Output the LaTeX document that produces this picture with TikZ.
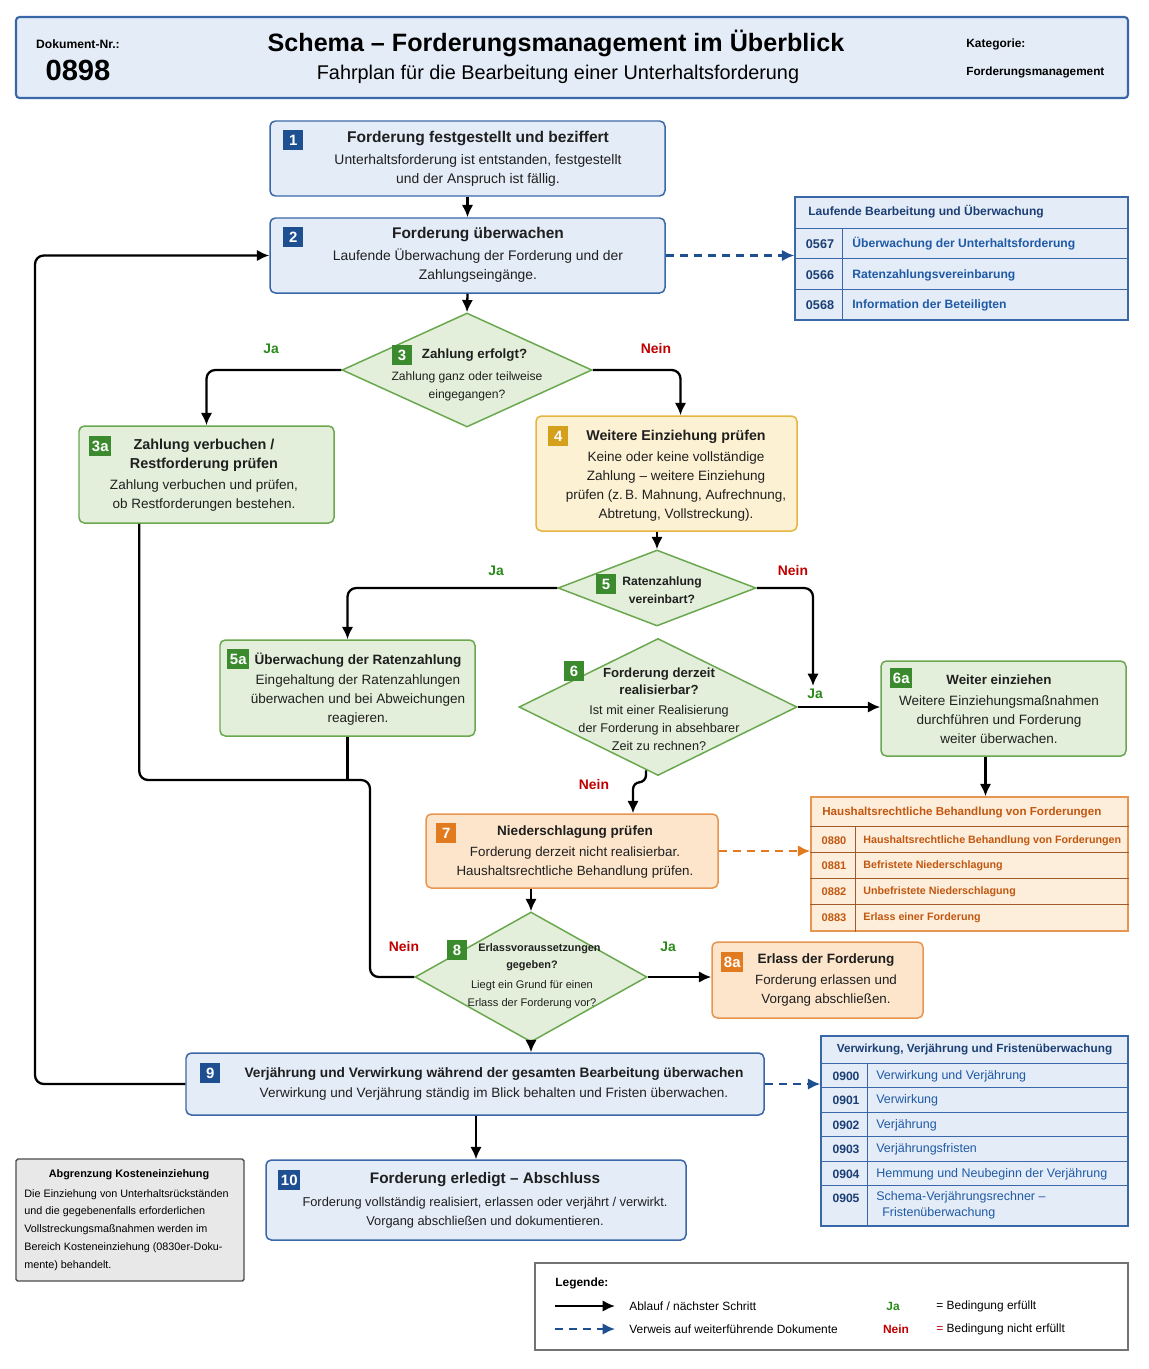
\documentclass[tikz,border=0pt]{standalone}
\usepackage{fontspec}
\setmainfont{Liberation Sans}
\usepackage{tikz}
\usetikzlibrary{arrows.meta,calc,positioning,shapes.geometric}

% colours
\definecolor{blueline}{HTML}{3A67A8}
\definecolor{bluefill}{HTML}{E4ECF7}
\definecolor{bluebadge}{HTML}{1D4F91}
\definecolor{bluetext}{HTML}{1F5AA6}
\definecolor{navytext}{HTML}{1B3F75}
\definecolor{greenline}{HTML}{6AA84F}
\definecolor{greenfill}{HTML}{E3EFDA}
\definecolor{greenbadge}{HTML}{3B8A2E}
\definecolor{goldline}{HTML}{E5B541}
\definecolor{goldfill}{HTML}{FDF1D3}
\definecolor{goldbadge}{HTML}{D5A11C}
\definecolor{orangeline}{HTML}{E8954F}
\definecolor{orangefill}{HTML}{FCE5CB}
\definecolor{orangebadge}{HTML}{E27B1F}
\definecolor{orangetext}{HTML}{C2570F}
\definecolor{orangerule}{HTML}{A15A2A}
\definecolor{jagreen}{HTML}{2A8A1A}
\definecolor{neinred}{HTML}{C00000}
\definecolor{notefill}{HTML}{E8E8E8}

% font helpers
\newcommand\fs[2][10.8]{\fontsize{#2}{#1}\selectfont}
\newcommand\ttl[1]{\fontsize{#1}{10.8}\selectfont\bfseries}

\tikzset{%
	stepbox/.style 2 args  = {draw, rectangle, rounded corners=3pt, line width=0.85pt, minimum width=#1*0.02cm, minimum height=#2*0.02cm},
	bluebox/.style         = {draw=blueline, fill=bluefill},
	greenbox/.style        = {draw=greenline, fill=greenfill},
	goldbox/.style         = {draw=goldline, fill=goldfill},
	orangebox/.style       = {draw=orangeline, fill=orangefill},
	decision/.style 2 args = {draw=greenline, fill=greenfill, diamond, line width=0.85pt, minimum width=#1*0.02cm, minimum height=#2*0.02cm},
	steptext/.style        = {align=center, text=black!88},
	badge/.style           = {rectangle, minimum width=20*0.02cm, minimum height=20*0.02cm, inner xsep=1.5pt, text=white, font={\ttl{8.5}}},
	doctable/.style 2 args = {draw, rectangle, line width=0.85pt, minimum width=#1*0.02cm, minimum height=#2*0.02cm},
	flow/.style            = {line width=1.3pt, -{Latex[length=7pt,width=6.5pt]}},
	joinline/.style        = {line width=1.3pt},
	refblue/.style         = {line width=1.2pt, draw=bluebadge, dash pattern=on 4.5pt off 3.5pt, -{Latex[length=7pt,width=6.5pt]}},
	reforange/.style       = {line width=1.2pt, draw=orangebadge, dash pattern=on 4.5pt off 3.5pt, -{Latex[length=7pt,width=6.5pt]}},
	ja/.style              = {text=jagreen, font={\ttl{7.9}}},
	nein/.style            = {text=neinred, font={\ttl{7.9}}},
}

\begin{document}
\begin{tikzpicture}[x=0.02cm, y=-0.02cm, every node/.style={inner sep=0pt}]
	\useasboundingbox (0,0) rectangle (1149,1369);
	\fill[white] (0,0) rectangle (1149,1369);

	% header
	\node[draw=blueline, fill=bluefill, line width=1.2pt, rounded corners=2pt, minimum width=1112*0.02cm, minimum height=81*0.02cm] (hdr) at (572,57.5) {};
	\node[font={\ttl{6.9}}] (docnr) at (78,44) {Dokument-Nr.:};
	\node[font={\ttl{16.6}}] (docnum) at (78,70) {0898};
	\node[font={\ttl{14.3}}] (title) at (556,43) {Schema – Forderungsmanagement im Überblick};
	\node[font={\fs{11.3}}] (subtitle) at (558,74) {Fahrplan für die Bearbeitung einer Unterhaltsforderung};
	\node[anchor=west, font={\ttl{6.8}}] (kat) at (966,44) {Kategorie:};
	\node[anchor=west, font={\ttl{6.7}}] (katname) at (966,72) {Forderungsmanagement};

	% steps
	\node[stepbox={395}{75}, bluebox] (s1) at (467.5,158.5) {};
	\node[badge, fill=bluebadge] (s1n) at ($(s1.north west)+(24,20)$) {1};
	\node[steptext, font={\fs{7.9}}] (s1t) at (478,159) {{\ttl{8.85}Forderung festgestellt und beziffert}\\[2pt]Unterhaltsforderung ist entstanden, festgestellt\\und der Anspruch ist fällig.};

	\node[stepbox={395}{75}, bluebox] (s2) at (467.5,255.5) {};
	\node[badge, fill=bluebadge] (s2n) at ($(s2.north west)+(24,20)$) {2};
	\node[steptext, font={\fs{7.9}}] (s2t) at (478,255) {{\ttl{8.8}Forderung überwachen}\\[2pt]Laufende Überwachung der Forderung und der\\Zahlungseingänge.};

	\node[decision={250}{114}] (d3) at (467,370) {};
	\node[badge, fill=greenbadge] (d3n) at ($(d3)+(-65,-15)$) {3};
	\node[steptext, font={\fs[10.2]{6.9}}] (d3t) at (467,375) {{\ttl{7.6}\hspace*{0.3cm}Zahlung erfolgt?}\\[2pt]Zahlung ganz oder teilweise\\eingegangen?};

	\node[stepbox={255}{97}, greenbox] (s3a) at (206.5,474.5) {};
	\node[badge, fill=greenbadge] (s3an) at ($(s3a.north west)+(22,21)$) {3a};
	\node[steptext, font={\fs{7.7}}] (s3at) at (204,475) {{\ttl{8.2}Zahlung verbuchen /}\\{\ttl{8.2}Restforderung prüfen}\\[1pt]Zahlung verbuchen und prüfen,\\ob Restforderungen bestehen.};

	\node[stepbox={261}{115}, goldbox] (s4) at (666.5,473.5) {};
	\node[badge, fill=goldbadge] (s4n) at ($(s4.north west)+(23,21)$) {4};
	\node[steptext, font={\fs{7.7}}] (s4t) at (676,476) {{\ttl{8.1}Weitere Einziehung prüfen}\\[1pt]Keine oder keine vollständige\\Zahlung – weitere Einziehung\\prüfen (z.\,B. Mahnung, Aufrechnung,\\Abtretung, Vollstreckung).};

	\node[decision={198}{76}] (d5) at (657,588) {};
	\node[badge, fill=greenbadge] (d5n) at ($(d5)+(-51,-4)$) {5};
	\node[steptext, font={\fs[10.2]{6.9}}] (d5t) at (662,590) {{\ttl{6.9}Ratenzahlung}\\{\ttl{6.9}vereinbart?}};

	\node[stepbox={255}{96}, greenbox] (s5a) at (347.5,688) {};
	\node[badge, fill=greenbadge] (s5an) at ($(s5a.north west)+(19,20)$) {5a};
	\node[steptext, font={\fs{7.7}}] (s5at) at (358,689) {{\ttl{7.7}Überwachung der Ratenzahlung}\\[1pt]Eingehaltung der Ratenzahlungen\\überwachen und bei Abweichungen\\reagieren.};

	\node[decision={278}{137}] (d6) at (658,707) {};
	\node[badge, fill=greenbadge] (d6n) at ($(d6)+(-84,-36)$) {6};
	\node[steptext, font={\fs[10.2]{7.2}}] (d6t) at (659,709) {{\ttl{7.5}Forderung derzeit}\\{\ttl{7.5}realisierbar?}\\[1pt]Ist mit einer Realisierung\\der Forderung in absehbarer\\Zeit zu rechnen?};

	\node[stepbox={245}{95}, greenbox] (s6a) at (1003.5,708.5) {};
	\node[badge, fill=greenbadge] (s6an) at ($(s6a.north west)+(21,18)$) {6a};
	\node[steptext, font={\fs{7.7}}] (s6at) at (999,709) {{\ttl{7.6}Weiter einziehen}\\[1pt]Weitere Einziehungsmaßnahmen\\durchführen und Forderung\\weiter überwachen.};

	\node[stepbox={292}{74}, orangebox] (s7) at (572,851) {};
	\node[badge, fill=orangebadge] (s7n) at ($(s7.north west)+(21,20)$) {7};
	\node[steptext, font={\fs{7.6}}] (s7t) at (575,852) {{\ttl{7.7}Niederschlagung prüfen}\\[1pt]Forderung derzeit nicht realisierbar.\\Haushaltsrechtliche Behandlung prüfen.};

	\node[decision={232}{130}] (d8) at (531,977) {};
	\node[badge, fill=greenbadge] (d8n) at ($(d8)+(-74,-27)$) {8};
	\node[steptext, font={\fs[10.2]{6.3}}] (d8t) at (532,976) {{\ttl{6.2}\hspace*{0.3cm}Erlassvoraussetzungen}\\{\ttl{6.2}gegeben?}\\[1pt]Liegt ein Grund für einen\\Erlass der Forderung vor?};

	\node[stepbox={211}{76}, orangebox] (s8a) at (817.5,980) {};
	\node[badge, fill=orangebadge] (s8an) at ($(s8a.north west)+(21,21)$) {8a};
	\node[steptext, font={\fs{7.6}}] (s8at) at (826,980) {{\ttl{7.7}Erlass der Forderung}\\[1pt]Forderung erlassen und\\Vorgang abschließen.};

	\node[stepbox={578}{62}, bluebox] (s9) at (475,1084) {};
	\node[badge, fill=bluebadge] (s9n) at ($(s9.north west)+(25,21)$) {9};
	\node[steptext, font={\fs{7.7}}] (s9t) at (494,1084) {{\ttl{7.8}Verjährung und Verwirkung während der gesamten Bearbeitung überwachen}\\[1pt]Verwirkung und Verjährung ständig im Blick behalten und Fristen überwachen.};

	\node[stepbox={420}{80}, bluebox] (s10) at (476,1200) {};
	\node[badge, fill=bluebadge] (s10n) at ($(s10.north west)+(24,21)$) {10};
	\node[steptext, font={\fs{7.3}}] (s10t) at (485,1200) {{\ttl{8.7}Forderung erledigt – Abschluss}\\[2.5pt]Forderung vollständig realisiert, erlassen oder verjährt / verwirkt.\\Vorgang abschließen und dokumentieren.};

	% document tables
	\node[doctable={333}{123}, draw=blueline, fill=bluefill] (t1) at (961.5,258.5) {};
	\foreach \y in {32,62,93}
		\draw[blueline, line width=0.85pt] ($(t1.north west)+(0,\y)$) -- ($(t1.north east)+(0,\y)$);
	\draw[blueline, line width=0.85pt] ($(t1.north west)+(48,32)$) -- ($(t1.south west)+(48,0)$);
	\node[anchor=west, font={\ttl{6.85}}, text=navytext] (t1h) at (808,212) {Laufende Bearbeitung und Überwachung};
	\foreach \y/\nr/\doc in {244/0567/Überwachung der Unterhaltsforderung, 275/0566/Ratenzahlungsvereinbarung, 305/0568/Information der Beteiligten} {
		\node[font={\ttl{7.2}}, text=navytext] (nr\nr) at (820,\y) {\nr};
		\node[anchor=west, font={\ttl{6.9}}, text=bluetext] (doc\nr) at (852,\y) {\doc};
	}

	\node[doctable={317}{134}, draw=orangeline, fill=orangefill!70] (t3) at (969.5,864) {};
	\foreach \y in {30,56,82,108}
		\draw[orangerule, line width=0.7pt] ($(t3.north west)+(0,\y)$) -- ($(t3.north east)+(0,\y)$);
	\draw[orangerule, line width=0.7pt] ($(t3.north west)+(45,30)$) -- ($(t3.south west)+(45,0)$);
	\node[anchor=west, font={\ttl{6.6}}, text=orangetext] (t3h) at (822,813) {Haushaltsrechtliche Behandlung von Forderungen};
	\foreach \y/\nr/\doc in {841/0880/Haushaltsrechtliche Behandlung von Forderungen, 866/0881/Befristete Niederschlagung, 892/0882/Unbefristete Niederschlagung, 918/0883/Erlass einer Forderung} {
		\node[font={\ttl{6.3}}, text=orangetext] (nr\nr) at (834,\y) {\nr};
		\node[anchor=west, font={\ttl{6.1}}, text=orangetext] (doc\nr) at (863,\y) {\doc};
	}

	\node[doctable={307}{190}, draw=blueline, fill=bluefill] (t2) at (974.5,1131) {};
	\foreach \y in {28,52,77,101,126,150}
		\draw[blueline, line width=0.85pt] ($(t2.north west)+(0,\y)$) -- ($(t2.north east)+(0,\y)$);
	\draw[blueline, line width=0.85pt] ($(t2.north west)+(47,28)$) -- ($(t2.south west)+(47,0)$);
	\node[font={\ttl{6.7}}, text=navytext] (t2h) at ($(t2.north)+(0,14)$) {Verwirkung, Verjährung und Fristenüberwachung};
	\foreach \y/\nr/\doc in {1076/0900/Verwirkung und Verjährung, 1100/0901/Verwirkung, 1125/0902/Verjährung, 1149/0903/Verjährungsfristen, 1174/0904/Hemmung und Neubeginn der Verjährung} {
		\node[font={\ttl{6.9}}, text=navytext] (nr\nr) at (846,\y) {\nr};
		\node[anchor=west, font={\fs{7.1}}, text=bluetext] (doc\nr) at (876,\y) {\doc};
	}
	\node[font={\ttl{6.9}}, text=navytext] (nr0905) at (846,1198) {0905};
	\node[anchor=north west, align=left, font={\fs[9.3]{7.1}}, text=bluetext] (doc0905) at (876,1191) {Schema-Verjährungsrechner –\\\hspace*{0.12cm}Fristenüberwachung};

	% flow
	\draw[flow] (s1.south) -- (s2.north);
	\draw[flow] (s2.south) -- (d3.north);
	\draw[flow, rounded corners=5pt] (d3.west) -| (s3a.north);
	\draw[flow, rounded corners=5pt] (d3.east) -| ($(s4.north)+(14,0)$);
	\draw[flow] (s4.south -| d5.north) -- (d5.north);
	\draw[flow, rounded corners=5pt] (d5.west) -| (s5a.north);
	\coordinate (c5) at (813,686);
	\draw[flow, rounded corners=5pt] (d5.east) -| (c5);
	\draw[flow] (d6.east) -- (d6.east -| s6a.west);
	\coordinate (c6) at ($(s6a.south)+(-18,0)$);
	\draw[flow] (c6) -- (c6 |- t3.north);
	\coordinate (c6n) at ($(d6.south)+(-12,-6)$);
	\draw[flow, rounded corners=4pt] (c6n) -- ++(0,12) -| ($(s7.north)+(61,0)$);
	\draw[flow] (s7.south -| d8.north) -- (d8.north);
	\draw[flow] (d8.east) -- (d8.east -| s8a.west);
	\draw[flow] (d8.south) -- (d8.south |- s9.north);
	\coordinate (j1) at (370,780);
	\coordinate (c3a) at ($(s3a.south west)+(61,0)$);
	\draw[joinline, rounded corners=5pt] (c3a) |- (j1) |- (d8.west);
	\draw[joinline] (s5a.south) -- (s5a.south |- j1);
	\coordinate (loop) at (35,600);
	\draw[flow, rounded corners=5pt] (s9.west) -| (loop |- s2.west) -- (s2.west);
	\draw[flow] (s9.south -| s10.north) -- (s10.north);

	% references
	\draw[refblue] (s2.east) -- (s2.east -| t1.west);
	\draw[reforange] (s7.east) -- (s7.east -| t3.west);
	\draw[refblue] (s9.east) -- (s9.east -| t2.west);

	% branch labels
	\node[ja] (ja3) at (271,349) {Ja};
	\node[nein] (nein3) at (656,349) {Nein};
	\node[ja] (ja5) at (496,571) {Ja};
	\node[nein] (nein5) at (793,571) {Nein};
	\node[ja] (ja6) at (815,694) {Ja};
	\node[nein] (nein6) at (594,785) {Nein};
	\node[nein] (nein8) at (404,947) {Nein};
	\node[ja] (ja8) at (668,947) {Ja};

	% side note
	\node[draw=black!70, fill=notefill, rounded corners=1pt, line width=0.8pt, minimum width=228*0.02cm, minimum height=122*0.02cm] (note) at (130,1220) {};
	\node[font={\ttl{6.2}}] (notet) at (129,1175) {Abgrenzung Kosteneinziehung};
	\node[anchor=north west, align=left, font={\fs[10.1]{6.15}}] (noteb) at (24,1189) {Die Einziehung von Unterhaltsrückständen\\und die gegebenenfalls erforderlichen\\Vollstreckungsmaßnahmen werden im\\Bereich Kosteneinziehung (0830er-Doku-\\mente) behandelt.};

	% legend
	\node[draw=black!55, fill=white, line width=0.7pt, minimum width=593*0.02cm, minimum height=87*0.02cm] (leg) at (831.5,1306.5) {};
	\node[anchor=west, font={\ttl{6.8}}] (legt) at (555,1283) {Legende:};
	\coordinate (la1) at (555,1306);
	\coordinate (la2) at (615,1306);
	\coordinate (lb1) at (555,1329);
	\coordinate (lb2) at (615,1329);
	\draw[flow] (la1) -- (la2);
	\draw[refblue] (lb1) -- (lb2);
	\node[anchor=west, font={\fs{6.8}}] (lega) at (629,1306) {Ablauf / nächster Schritt};
	\node[anchor=west, font={\fs{6.8}}] (legb) at (629,1329) {Verweis auf weiterführende Dokumente};
	\node[ja, font={\ttl{6.8}}] (legja) at (893,1306) {Ja};
	\node[nein, font={\ttl{6.8}}] (legnein) at (896,1329) {Nein};
	\node[anchor=west, font={\fs{6.8}}] (legjat) at (936,1306) {= Bedingung erfüllt};
	\node[anchor=west, font={\fs{6.8}}] (legneint) at (936,1329) {{\color{neinred}=} Bedingung nicht erfüllt};
\end{tikzpicture}
\end{document}
